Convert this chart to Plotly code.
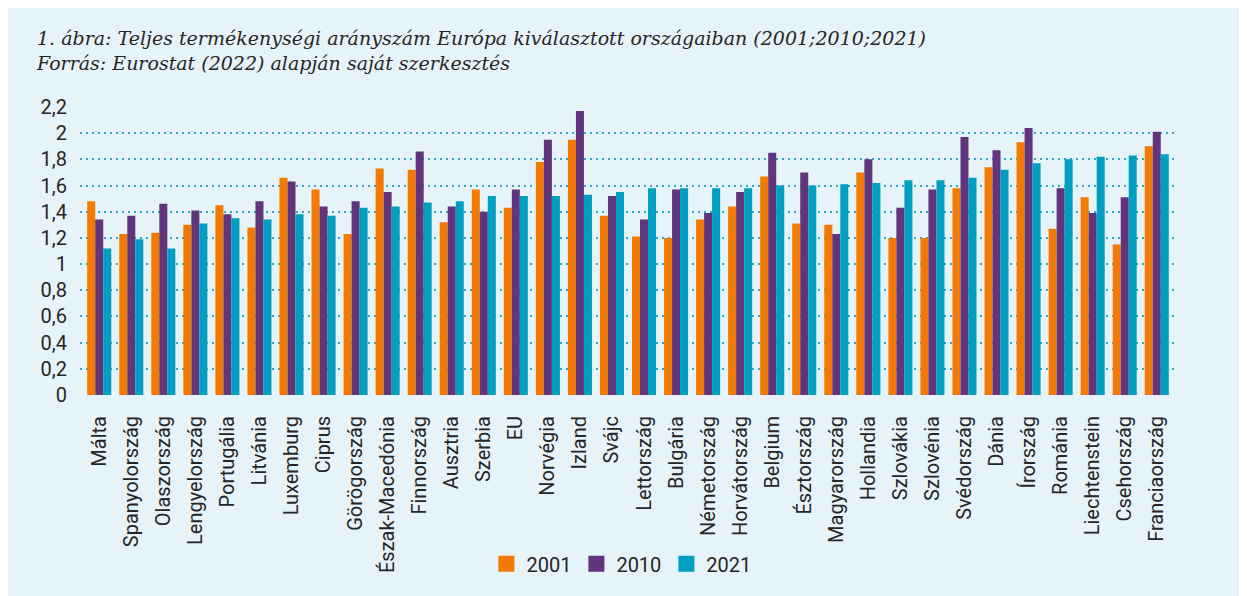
import plotly.graph_objects as go

# adatok
orszagok = ["Málta", "Spanyolország", "Olaszország", "Lengyelország", "Portugália",
            "Litvánia", "Luxemburg", "Ciprus", "Görögország", "Észak-Macedónia",
            "Finnország", "Ausztria", "Szerbia", "EU", "Norvégia", "Izland", "Svájc",
            "Lettország", "Bulgária", "Németország", "Horvátország", "Belgium",
            "Észtország", "Magyarország", "Hollandia", "Szlovákia", "Szlovénia",
            "Svédország", "Dánia", "Írország", "Románia", "Liechtenstein",
            "Csehország", "Franciaország"]

ev_2001 = [1.48, 1.23, 1.24, 1.30, 1.45, 1.28, 1.66, 1.57, 1.23, 1.73,
           1.72, 1.32, 1.57, 1.43, 1.78, 1.95, 1.37, 1.21, 1.20, 1.34,
           1.44, 1.67, 1.31, 1.30, 1.70, 1.20, 1.20, 1.58, 1.74, 1.93,
           1.27, 1.51, 1.15, 1.90]
ev_2010 = [1.34, 1.37, 1.46, 1.41, 1.38, 1.48, 1.63, 1.44, 1.48, 1.55,
           1.86, 1.44, 1.40, 1.57, 1.95, 2.17, 1.52, 1.34, 1.57, 1.39,
           1.55, 1.85, 1.70, 1.23, 1.80, 1.43, 1.57, 1.97, 1.87, 2.04,
           1.58, 1.39, 1.51, 2.01]
ev_2021 = [1.12, 1.19, 1.12, 1.31, 1.35, 1.34, 1.38, 1.37, 1.43, 1.44,
           1.47, 1.48, 1.52, 1.52, 1.52, 1.53, 1.55, 1.58, 1.58, 1.58,
           1.58, 1.60, 1.60, 1.61, 1.62, 1.64, 1.64, 1.66, 1.72, 1.77,
           1.80, 1.82, 1.83, 1.84]

sorozatok = [("2001", ev_2001, "#F27A00"),
             ("2010", ev_2010, "#60357B"),
             ("2021", ev_2021, "#009EC1")]

hatter = "#E6F3F8"
racs = "#2EA9CB"
szoveg = "#262626"

fig = go.Figure()
for nev, ertekek, szin in sorozatok:
    fig.add_trace(go.Bar(x=orszagok, y=ertekek, name=nev, marker_color=szin,
                         marker_line_width=0, showlegend=False))
# jelmagyarázat nagyobb négyzetekkel
for nev, ertekek, szin in sorozatok:
    fig.add_trace(go.Scatter(x=[None], y=[None], name=nev, mode="markers",
                             marker=dict(symbol="square", size=16, color=szin)))

# a böngésző 8px margót hagy a lap körül -> 1239x588
fig.update_layout(
    width=1239, height=588,
    margin=dict(l=72, r=71, t=99, b=199),
    paper_bgcolor=hatter,
    plot_bgcolor=hatter,
    barmode="group",
    bargap=0.25,
    bargroupgap=0,
    separators=", ",
    font=dict(family="Roboto", size=20, color=szoveg),
    showlegend=True,
    legend=dict(orientation="h", x=0.494, xanchor="center", y=-0.586, yanchor="middle",
                font=dict(size=20), itemsizing="trace", bgcolor="rgba(0,0,0,0)"),
    title=dict(
        text="<i>1. ábra: Teljes termékenységi arányszám Európa kiválasztott országaiban (2001;2010;2021)"
             "<br>Forrás: Eurostat (2022) alapján saját szerkesztés</i>",
        x=29 / 1239, xanchor="left", xref="container",
        y=1 - 37 / 588, yanchor="top", yref="container",
        font=dict(family="DejaVu Serif", size=19, color=szoveg),
    ),
)

fig.update_xaxes(
    range=[-0.6, 33.6], tickangle=-90, showgrid=False, zeroline=False,
    ticks="outside", ticklen=12, tickcolor="rgba(0,0,0,0)",
    tickfont=dict(size=20), showline=False,
)
fig.update_yaxes(
    range=[0, 2.2], dtick=0.2, tick0=0, showgrid=True, gridcolor=racs,
    gridwidth=2, griddash="2px,4px", zeroline=False, showline=False,
    ticklabelstandoff=12, tickfont=dict(size=20),
)

fig.write_html("out.html")
